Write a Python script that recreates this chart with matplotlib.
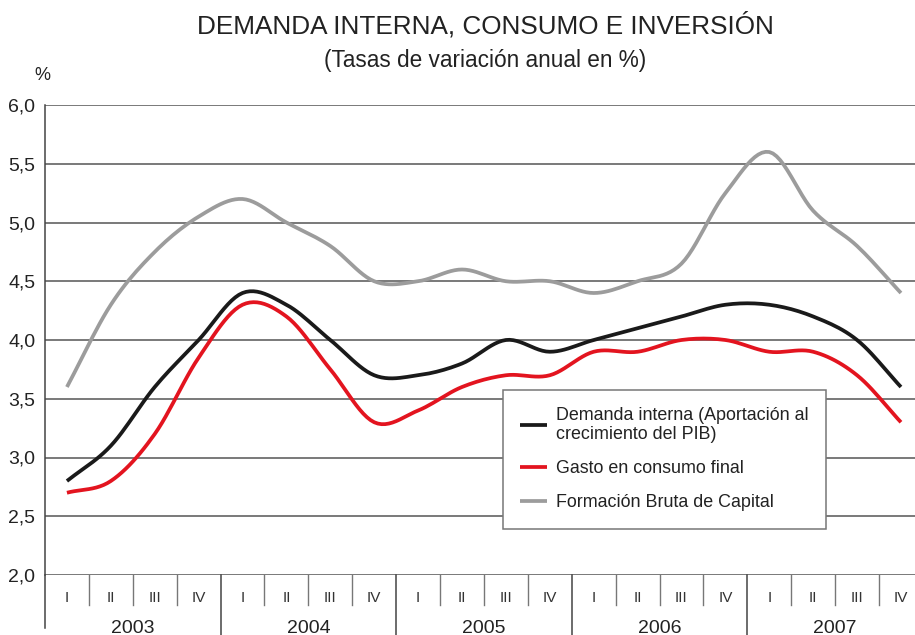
import numpy as np
import matplotlib.pyplot as plt
from matplotlib.transforms import blended_transform_factory

plt.rcParams['font.family'] = ['Liberation Sans', 'DejaVu Sans']

# datos (tasas de variacion anual, %)
years = ['2003', '2004', '2005', '2006', '2007']
quarters = ['I', 'II', 'III', 'IV']
demanda = [2.8, 3.1, 3.6, 4.0, 4.4, 4.3, 4.0, 3.7, 3.7, 3.8,
           4.0, 3.9, 4.0, 4.1, 4.2, 4.3, 4.3, 4.2, 4.0, 3.6]
consumo = [2.7, 2.8, 3.2, 3.85, 4.3, 4.2, 3.75, 3.3, 3.4, 3.6,
           3.7, 3.7, 3.9, 3.9, 4.0, 4.0, 3.9, 3.9, 3.7, 3.3]
fbc = [3.6, 4.3, 4.75, 5.05, 5.2, 5.0, 4.8, 4.5, 4.5, 4.6,
       4.5, 4.5, 4.4, 4.5, 4.65, 5.25, 5.6, 5.1, 4.8, 4.4]
labels = ['Demanda interna (Aportación al\ncrecimiento del PIB)',
          'Gasto en consumo final',
          'Formación Bruta de Capital']
colors = ['#1a1a1a', '#e3141f', '#9c9c9c']


def smooth(y, n=12):
    # curva Catmull-Rom entre los puntos, solo para el trazo
    y = np.asarray(y, float)
    p = np.concatenate([[2*y[0]-y[1]], y, [2*y[-1]-y[-2]]])
    xs, ys = [], []
    for i in range(len(y)-1):
        t = np.linspace(0, 1, n, endpoint=False)
        p0, p1, p2, p3 = p[i], p[i+1], p[i+2], p[i+3]
        v = 0.5*((2*p1) + (-p0+p2)*t + (2*p0-5*p1+4*p2-p3)*t**2
                 + (-p0+3*p1-3*p2+p3)*t**3)
        xs.append(i+t)
        ys.append(v)
    xs.append([len(y)-1])
    ys.append([y[-1]])
    return np.concatenate(xs), np.concatenate(ys)


fig = plt.figure(figsize=(9.15, 6.35), dpi=100)
ax = fig.add_axes([45/915, 60/635, 870/915, 470/635])

x = np.arange(len(demanda))
handles = []
for serie, c, lab in zip([demanda, consumo, fbc], colors, labels):
    xs, ys = smooth(serie)
    h, = ax.plot(xs, ys, color=c, lw=2.7, label=lab, solid_capstyle='butt')
    handles.append(h)

ax.set_ylim(2.0, 6.0)
ax.set_xlim(-0.5, 19.32)
ax.set_yticks(np.arange(2.0, 6.01, 0.5))
ax.set_yticklabels([f'{v:.1f}'.replace('.', ',') for v in np.arange(2.0, 6.01, 0.5)],
                   fontsize=14, color='#222222')
ax.tick_params(axis='y', length=0, pad=7)
ax.set_xticks([])
for v in np.arange(2.0, 6.01, 0.5):
    ax.axhline(v, color='#555555', lw=1.1, zorder=0)
for s in ['top', 'right', 'bottom']:
    ax.spines[s].set_visible(False)
ax.spines['left'].set_color('#444444')
ax.spines['left'].set_linewidth(1.1)
ax.spines['left'].set_bounds(2.0, 6.0)

trans = blended_transform_factory(ax.transData, ax.transAxes)
ax.plot([-0.5, -0.5], [0, -0.113], color='#444444', lw=1.1,
        transform=trans, clip_on=False)
for k in range(1, len(x)):
    if k % 4 == 0:
        ax.plot([k-0.5, k-0.5], [0, -0.14], color='#444444', lw=1.1,
                transform=trans, clip_on=False)
    else:
        ax.plot([k-0.5, k-0.5], [0, -0.064], color='#777777', lw=1.0,
                transform=trans, clip_on=False)
for k in range(len(x)):
    ax.text(k, -0.049, quarters[k % 4], transform=trans, ha='center',
            va='center', fontsize=11, color='#333333')
for j, yr in enumerate(years):
    ax.text(4*j+1.5, -0.113, yr, transform=trans, ha='center',
            va='center', fontsize=14, color='#222222')

fig.text(485/915, 1-25/635, 'DEMANDA INTERNA, CONSUMO E INVERSIÓN',
         ha='center', va='center', fontsize=18.8, color='#222222')
fig.text(485/915, 1-60/635, '(Tasas de variación anual en %)',
         ha='center', va='center', fontsize=16.3, color='#222222')
fig.text(42/915, 1-75/635, '%', ha='center', va='center',
         fontsize=13, color='#222222')

leg = ax.legend(handles=handles, loc='upper left',
                bbox_to_anchor=(0.526, 0.394), fontsize=12.9,
                frameon=True, fancybox=False, borderpad=0.95,
                borderaxespad=0, labelspacing=0.95, handlelength=1.55,
                handletextpad=0.5)
leg.get_frame().set_edgecolor('#777777')
leg.get_frame().set_linewidth(1.1)
leg.get_frame().set_alpha(1)
for t in leg.get_texts():
    t.set_linespacing(1.2)
    t.set_color('#222222')

fig.savefig('out.png', dpi=100)
